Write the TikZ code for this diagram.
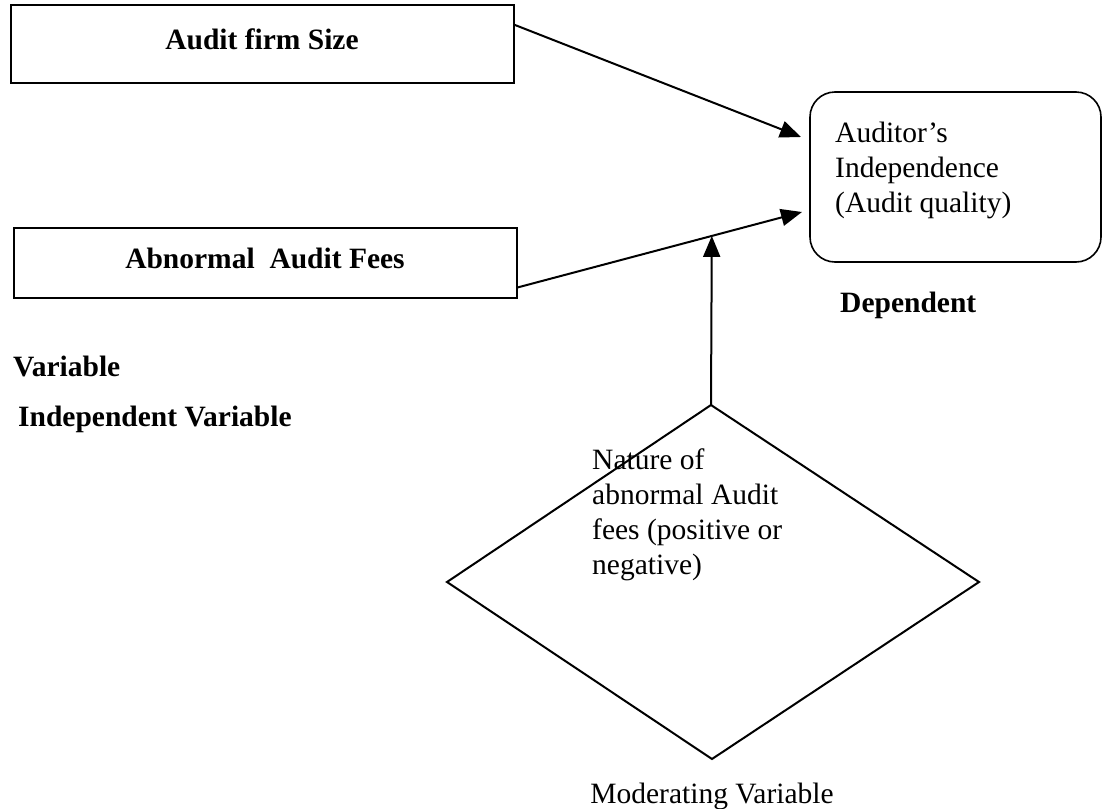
\documentclass[tikz,border=0pt]{standalone}
\usepackage{fontspec}
\setmainfont{Liberation Serif}
\usetikzlibrary{arrows.meta,calc}
\begin{document}
\begin{tikzpicture}[x=1pt,y=-1pt,
  txt/.style={font=\fontsize{29.5}{35}\selectfont, inner sep=0pt},
  btxt/.style={font=\fontsize{29.5}{35}\selectfont\bfseries, inner sep=0pt},
  boxshape/.style={draw, line width=2pt, inner sep=0pt},
  conn/.style={line width=2pt, -{Triangle[length=21pt,width=17pt]}}]
\useasboundingbox (0,0) rectangle (1104,809);
% boxes
\node[boxshape, minimum width=503pt, minimum height=78pt] (b1) at (262,44) {};
\node[btxt, anchor=base] (t1) at (262,49) {Audit firm Size};
\node[boxshape, minimum width=503pt, minimum height=70pt] (b2) at (265,263) {};
\node[btxt, anchor=base] (t2) at (265,268) {Abnormal\ \ Audit Fees};
\node[draw, line width=1.6pt, inner sep=0pt, rounded corners=25pt, minimum width=291pt, minimum height=170pt] (dep) at (955.5,177) {};
\node[txt, anchor=base west, align=left] (dt) at (835,212) {Auditor’s\\Independence\\(Audit quality)};
% diamond
\coordinate (dT) at (711,405);
\coordinate (dL) at (447,582);
\coordinate (dB) at (712,759);
\coordinate (dR) at (979,582);
\draw[line width=2pt, line join=miter] (dT) -- (dR) -- (dB) -- (dL) -- cycle;
\node[txt, anchor=base west, align=left] (nt) at (592,574) {Nature of\\abnormal Audit\\fees (positive or\\negative)};
% labels
\node[btxt, anchor=base west] (dl) at (840,312) {Dependent};
\node[btxt, anchor=base west] (vl) at (13,376) {Variable};
\node[btxt, anchor=base west] (il) at (18,426) {Independent Variable};
\node[txt, anchor=base] (ml) at (712,803) {Moderating Variable};
% connectors
\coordinate (s1) at ($(b1.north east)!0.26!(b1.south east)$);
\coordinate (e1) at (801,137);
\coordinate (s2) at ($(b2.north east)!0.84!(b2.south east)$);
\coordinate (e2) at (802,212);
\draw[conn] (s1) -- (e1);
\draw[conn] (s2) -- (e2);
\path (s2) -- (e2) coordinate[pos=0.683] (m);
\draw[conn] (dT) -- (m);
\end{tikzpicture}
\end{document}
